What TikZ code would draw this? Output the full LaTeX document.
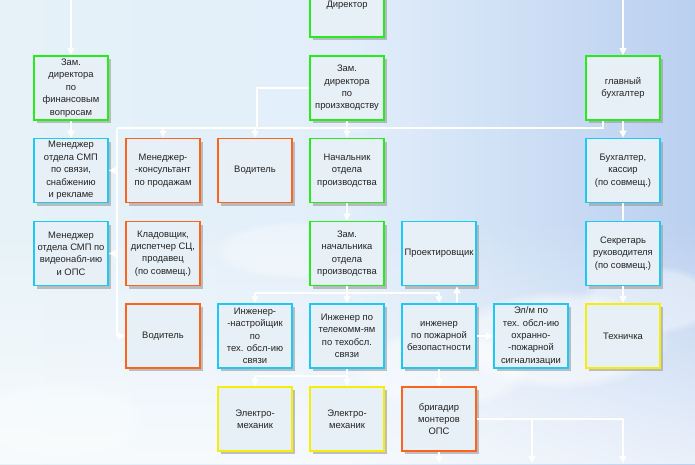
\documentclass[tikz,border=0pt]{standalone}
\usepackage{fontspec}
\setmainfont{Liberation Sans}
\usetikzlibrary{arrows.meta,calc,shadows,fadings}
\definecolor{gcol}{RGB}{40,235,30}
\definecolor{ccol}{RGB}{30,200,245}
\definecolor{ocol}{RGB}{255,100,30}
\definecolor{ycol}{RGB}{245,238,10}
\definecolor{skyA}{RGB}{230,242,248}
\definecolor{skyM}{RGB}{226,238,250}
\definecolor{skyB}{RGB}{186,208,240}
\definecolor{boxfill}{RGB}{232,240,247}
\definecolor{txt}{RGB}{35,35,35}
\tikzset{
  box/.style={draw, line width=1.8pt, fill=boxfill,
    minimum width=74pt, minimum height=64pt, inner sep=1pt, align=center,
    text=txt, font=\fontsize{9.4}{12.4}\selectfont,
    drop shadow={shadow xshift=3pt, shadow yshift=-3pt, fill=gray!80, opacity=0.6}},
  gb/.style={box, draw=gcol},
  cb/.style={box, draw=ccol},
  ob/.style={box, draw=ocol},
  yb/.style={box, draw=ycol},
  ln/.style={draw=white, line width=1.3pt},
  arr/.style={ln, -{Triangle[width=7pt,length=7pt]}},
  cloud/.style={fill=white, path fading={circle with fuzzy edge 20 percent}}
}
\begin{document}
\begin{tikzpicture}[x=1pt,y=-1pt]
\useasboundingbox (0,0) rectangle (695,464);
% background
\shade[left color=skyA, right color=skyB, middle color=skyM] (0,0) rectangle (695,464);
\fill[white, path fading=north, fill opacity=0.7] (0,220) rectangle (695,464);
\fill[cloud, fill opacity=0.5] (560,340) ellipse (110 and 50);
\fill[cloud, fill opacity=0.45] (440,370) ellipse (90 and 40);
\fill[cloud, fill opacity=0.4] (650,300) ellipse (70 and 35);
\fill[cloud, fill opacity=0.35] (300,250) ellipse (90 and 30);
\fill[cloud, fill opacity=0.3] (60,420) ellipse (90 and 40);

% row 0
\node[gb] (dir) at (347,5) {Директор};
% row 1
\node[gb] (fin) at (71,88) {Зам.\\директора\\по\\финансовым\\вопросам};
\node[gb] (zampr) at (347,88) {Зам.\\директора\\по\\произхводству};
\node[gb] (glav) at (623,88) {главный\\бухгалтер};
% row 2
\node[cb] (smp1) at (71,170.5) {Менеджер\\отдела СМП\\по связи,\\снабжению\\и рекламе};
\node[ob] (kons) at (163,170.5) {Менеджер-\\-консультант\\по продажам};
\node[ob] (vod1) at (255,170.5) {Водитель};
\node[gb] (nach) at (347,170.5) {Начальник\\отдела\\производства};
\node[cb] (buh) at (623,170.5) {Бухгалтер,\\кассир\\(по совмещ.)};
% row 3
\node[cb] (smp2) at (71,253.5) {Менеджер\\отдела СМП по\\видеонабл-ию\\и ОПС};
\node[ob] (klad) at (163,253.5) {Кладовщик,\\диспетчер СЦ,\\продавец\\(по совмещ.)};
\node[gb] (zamn) at (347,253.5) {Зам.\\начальника\\отдела\\производства};
\node[cb] (proekt) at (439,253.5) {Проектировщик};
\node[cb] (sekr) at (623,253.5) {Секретарь\\руководителя\\(по совмещ.)};
% row 4
\node[ob] (vod2) at (163,336) {Водитель};
\node[cb] (ing1) at (255,336) {Инженер-\\-настройщик\\по\\тех. обсл-ию\\связи};
\node[cb] (ing2) at (347,336) {Инженер по\\телекомм-ям\\по техобсл.\\связи};
\node[cb] (ingp) at (439,336) {инженер\\по пожарной\\безопастности};
\node[cb] (elm) at (531,336) {Эл/м по\\тех. обсл-ию\\охранно-\\-пожарной\\сигнализации};
\node[yb] (tech) at (623,336) {Техничка};
% row 5
\node[yb] (em1) at (255,419) {Электро-\\механик};
\node[yb] (em2) at (347,419) {Электро-\\механик};
\node[ob] (brig) at (439,419) {бригадир\\монтеров\\ОПС};

% free ends
\coordinate (tL) at (71,0);
\coordinate (tR) at (623,0);
\coordinate (h1L) at (117,128);
\coordinate (h1M) at (257,128);
\coordinate (h1R) at (603,128);
\coordinate (vL) at (117,336);
\coordinate (h2L) at (255,293);
\coordinate (h2R) at (439,293);
\coordinate (h3L) at (255,376);
\coordinate (h4M) at (532,419);
\coordinate (h4R) at (623,419);
\coordinate (b1) at (439,463);
\coordinate (b2) at (532,463);
\coordinate (b3) at (623,463);

% connectors
\draw[arr] (tL) -- (fin);
\draw[arr] (tR) -- (glav);
\draw[arr] (fin) -- (smp1);
\draw[ln] (zampr.west) -| (h1M);
\draw[ln] (h1L) -- (h1R) -- (glav.south -| h1R);
\draw[arr] (kons.north |- h1L) -- (kons.north);
\draw[arr] (vod1.north |- h1L) -- (vod1.north);
\draw[arr] (zampr) -- (nach);
\draw[arr] (glav) -- (buh);
\draw[ln] (h1L) -- (vL);
\draw[arr] (smp1.east -| h1L) -- (smp1.east);
\draw[arr] (smp2.east -| h1L) -- (smp2.east);
\draw[arr] (vL) -- (vod2.west);
\draw[arr] (nach) -- (zamn);
\draw[ln] (h2L) -- (h2R);
\draw[arr] (zamn) -- (ing2);
\draw[arr] (h2L) -- (ing1.north);
\draw[arr] (h2R) -- (ingp.north);
\draw[arr] ($(ingp.north)+(18,0)$) -- ($(proekt.south)+(18,0)$);
\draw[arr] (ingp) -- (elm);
\draw[ln] (buh) -- (sekr);
\draw[arr] (sekr) -- (tech);
\draw[ln] (h3L) -- (ing2.south |- h3L);
\draw[arr] (ing2) -- (em2);
\draw[arr] (h3L) -- (em1.north);
\draw[arr] (ingp) -- (brig);
\draw[ln] (brig.east) -- (h4R);
\draw[arr] (h4M) -- (b2);
\draw[arr] (h4R) -- (b3);
\draw[arr] (brig) -- (b1);
\end{tikzpicture}
\end{document}
